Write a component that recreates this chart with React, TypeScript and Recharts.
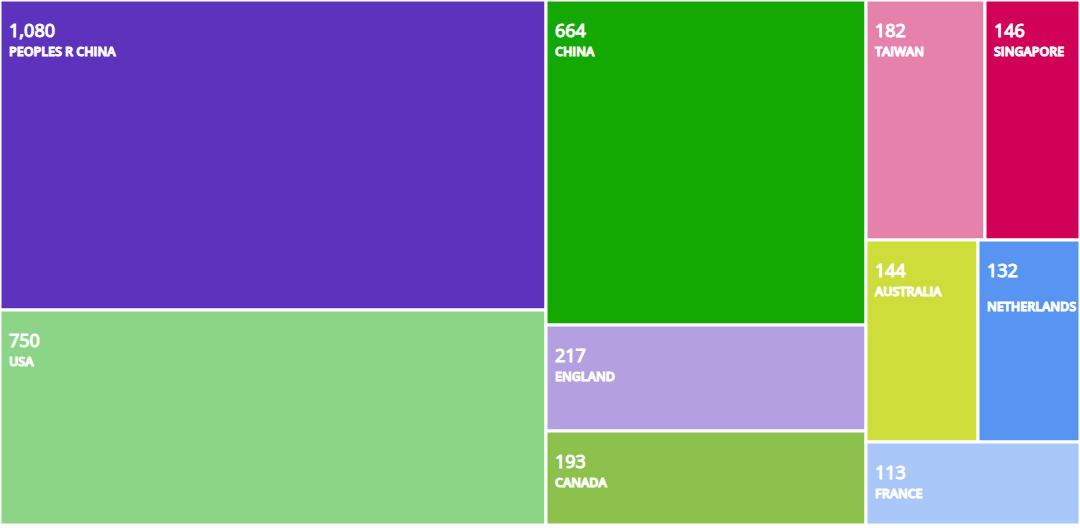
import React from "react";
import { Treemap } from "recharts";

const countries = ["PEOPLES R CHINA", "USA", "CHINA", "ENGLAND", "CANADA", "TAIWAN", "SINGAPORE", "AUSTRALIA", "NETHERLANDS", "FRANCE"];
const counts = [1080, 750, 664, 217, 193, 182, 146, 144, 132, 113];
const colors = ["#5d33be", "#8dd586", "#13a802", "#b4a0e1", "#8cc24c", "#e681ac", "#d10158", "#cedd3a", "#5895f3", "#a9c8f9"];

const data = countries.map((name, i) => ({ name, size: counts[i] }));

const fmt = (v: number) => v.toLocaleString("en-US");

const Cell = (props: any) => {
  const { x, y, width, height, name, depth, value } = props;
  if (depth !== 1) return null;
  const i = countries.indexOf(name);
  const fill = colors[i] ?? "#999";
  const clipId = `clip-${i}`;
  const wraps = name.length * 8.2 > width - 14;
  return (
    <g>
      <defs>
        <clipPath id={clipId}>
          <rect x={x} y={y} width={width} height={height} />
        </clipPath>
      </defs>
      <rect x={x} y={y} width={width} height={height} fill={fill} stroke="#ffffff" strokeWidth={3} />
      <g clipPath={`url(#${clipId})`}>
        <text x={x + 9} y={y + 37} fill="#ffffff" fontSize={18} fontFamily="'Noto Sans', sans-serif" fontWeight={400}>
          {fmt(value)}
        </text>
        <text x={x + 9} y={y + (wraps ? 71 : 56)} fill="#ffffff" fontSize={12.5} fontFamily="'Open Sans', sans-serif" fontWeight={600}>
          {name}
        </text>
      </g>
    </g>
  );
};

export default function App() {
  return (
    <div style={{ width: 1080, height: 528, background: "#ffffff" }}>
      <style>{`body{margin:0;}`}</style>
      <Treemap
        width={1080}
        height={525}
        data={data}
        dataKey="size"
        nameKey="name"
        stroke="#ffffff"
        isAnimationActive={false}
        content={<Cell />}
      />
    </div>
  );
}
